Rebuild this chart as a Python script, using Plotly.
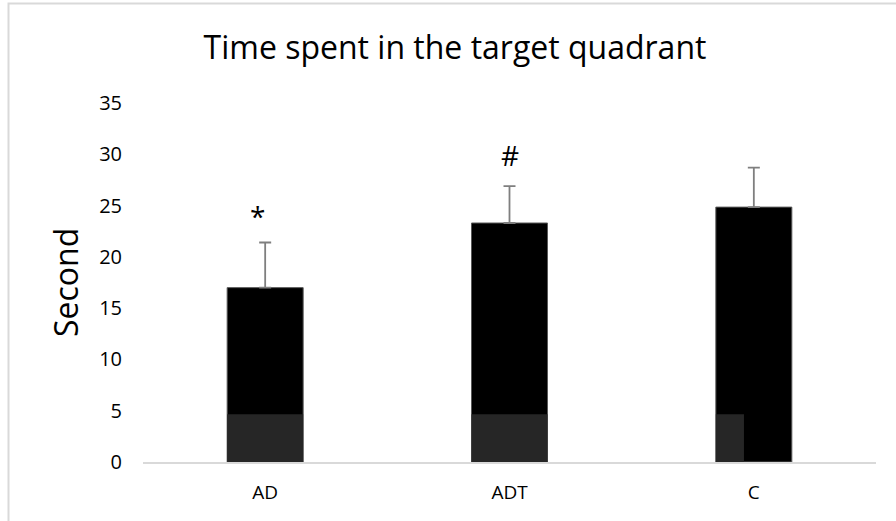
import plotly.graph_objects as go

# ---- data ----
categories = ["AD", "ADT", "C"]
means = [17.0, 23.3, 24.85]
sem_plus = [4.4, 3.6, 3.85]
sig_marks = ["*", "#", ""]
sig_y = [24.0, 29.9, None]
y_ticks = [0, 5, 10, 15, 20, 25, 30, 35]
title_text = "Time spent in the target quadrant"
y_title = "Second"
# dark watermark blocks at the foot of the bars (value height, fraction of bar width covered)
wm_height = [4.65, 4.65, 4.65]
wm_cover = [1.0, 1.0, 0.37]

FONT = "Open Sans"
W, H = 896, 521
L, R, T, B = 143, 20, 103, 59
bargap = 0.689

fig = go.Figure()
fig.add_trace(go.Bar(
    x=categories, y=means,
    marker=dict(color="#000000", line=dict(width=1, color="#595959")),
    error_y=dict(type="data", symmetric=False, array=sem_plus,
                 arrayminus=[0] * len(means),
                 color="#7f7f7f", thickness=1.8, width=6),
    hoverinfo="x+y",
))

half = (1 - bargap) / 2
shapes = []
for i, (h, c) in enumerate(zip(wm_height, wm_cover)):
    shapes.append(dict(type="rect", xref="x", yref="y",
                       x0=i - half, x1=i - half + 2 * half * c,
                       y0=0, y1=h, fillcolor="#262626",
                       line=dict(width=0), layer="above"))

# outer border (light gray frame)
pw, ph = W - L - R, H - T - B
shapes.append(dict(type="rect", xref="paper", yref="paper",
                   x0=(8.5 - L) / pw, x1=(W + 10 - L) / pw,
                   y0=-(H + 10 - (H - B)) / ph, y1=((H - B) - 3.5) / ph,
                   line=dict(color="#d9d9d9", width=2), fillcolor="rgba(0,0,0,0)",
                   layer="below"))

annotations = []
for cat, m, yv in zip(categories, sig_marks, sig_y):
    if m and yv is not None:
        annotations.append(dict(x=cat, y=yv, xref="x", yref="y", text=m,
                                showarrow=False, yanchor="middle",
                                xshift=-8 if m == "*" else 0,
                                font=dict(family=FONT, size=28, color="#000000")))
annotations.append(dict(x=(65 - L) / pw, y=((H - B) - 283) / ph,
                        xref="paper", yref="paper", text=y_title,
                        textangle=-90, showarrow=False,
                        xanchor="center", yanchor="middle",
                        font=dict(family=FONT, size=32, color="#000000")))

fig.update_layout(
    width=W, height=H,
    margin=dict(l=L, r=R, t=T, b=B, pad=0),
    paper_bgcolor="white", plot_bgcolor="white",
    bargap=bargap,
    showlegend=False,
    title=dict(text=title_text, x=455 / W, xanchor="center", xref="container",
               y=1 - 48 / H, yanchor="middle", yref="container",
               font=dict(family=FONT, size=32, color="#000000")),
    xaxis=dict(showline=True, linecolor="#d9d9d9", linewidth=2,
               showgrid=False, zeroline=False, ticks="",
               ticklabelstandoff=12,
               tickfont=dict(family=FONT, size=19, color="#000000")),
    yaxis=dict(range=[0, 35], tickvals=y_ticks, showline=False,
               showgrid=False, zeroline=False, ticks="",
               ticklabelstandoff=20,
               tickfont=dict(family=FONT, size=20, color="#000000")),
    shapes=shapes,
    annotations=annotations,
)

fig.write_html("out.html", config={"displayModeBar": False},
               post_script="document.body.style.margin='0';document.body.style.overflow='hidden';")
